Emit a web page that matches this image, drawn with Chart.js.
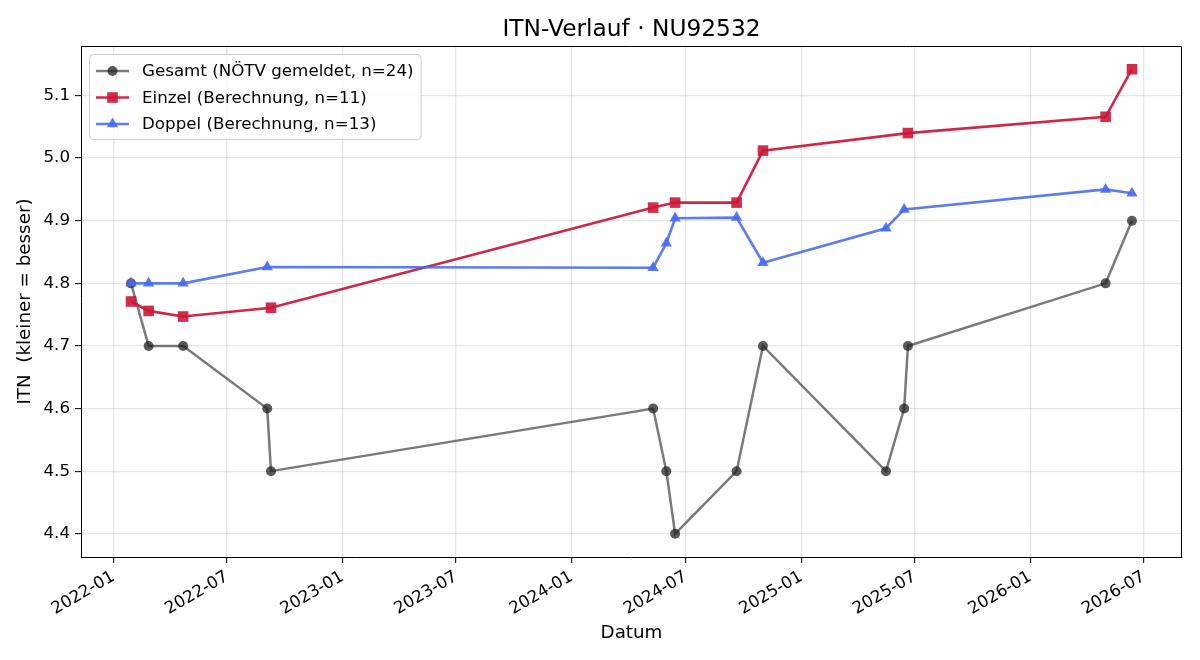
<!DOCTYPE html>
<html>
<head>
<meta charset="utf-8">
<script src="https://cdn.jsdelivr.net/npm/chart.js@4.4.1/dist/chart.umd.min.js"></script>
<style>
  html, body { margin: 0; background: #fff; }
</style>
</head>
<body>
<canvas id="itnChart" width="1200" height="660"></canvas>
<script>
// values
const gesamtDates = ["2022-01-29", "2022-02-26", "2022-04-22", "2022-09-03", "2022-09-09", "2024-05-10", "2024-05-31", "2024-06-14", "2024-09-20", "2024-11-01", "2025-05-16", "2025-06-14", "2025-06-20", "2026-05-01", "2026-06-12"];
const gesamtValues = [4.8, 4.7, 4.7, 4.6, 4.5, 4.6, 4.5, 4.4, 4.5, 4.7, 4.5, 4.6, 4.7, 4.8, 4.9];

const einzelDates = ["2022-01-29", "2022-02-26", "2022-04-22", "2022-09-09", "2024-05-10", "2024-06-14", "2024-09-20", "2024-11-01", "2025-06-20", "2026-05-01", "2026-06-12"];
const einzelValues = [4.771, 4.756, 4.747, 4.761, 4.921, 4.929, 4.929, 5.012, 5.040, 5.066, 5.142];

const doppelDates = ["2022-01-29", "2022-02-26", "2022-04-22", "2022-09-03", "2024-05-10", "2024-05-31", "2024-06-14", "2024-09-20", "2024-11-01", "2025-05-16", "2025-06-14", "2026-05-01", "2026-06-12"];
const doppelValues = [4.8, 4.8, 4.8, 4.826, 4.825, 4.864, 4.904, 4.905, 4.833, 4.888, 4.918, 4.950, 4.944];

const xTickLabels = ["2022-01", "2022-07", "2023-01", "2023-07", "2024-01", "2024-07", "2025-01", "2025-07", "2026-01", "2026-07"];
const yTickValues = [4.4, 4.5, 4.6, 4.7, 4.8, 4.9, 5.0, 5.1];

const seriesLabels = ["Gesamt (NÖTV gemeldet, n=24)", "Einzel (Berechnung, n=11)", "Doppel (Berechnung, n=13)"];

const DAY = 86400000;
const toDays = s => Date.parse(s + "T00:00:00Z") / DAY;
const pts = (dates, vals) => dates.map((d, i) => ({ x: toDays(d), y: vals[i] }));

const xTickValues = xTickLabels.map(l => toDays(l + "-01"));

// matplotlib-like 5% margins
const allX = [...gesamtDates, ...einzelDates, ...doppelDates].map(toDays);
const allY = [...gesamtValues, ...einzelValues, ...doppelValues];
const xLo = Math.min(...allX), xHi = Math.max(...allX);
const yLo = Math.min(...allY), yHi = Math.max(...allY);
const xPad = (xHi - xLo) * 0.05, yPad = (yHi - yLo) * 0.05;

const FONT = "'DejaVu Sans', sans-serif";
Chart.defaults.font.family = FONT;
Chart.defaults.color = "#000";

const GRID = "rgba(176,176,176,0.3)";

const frameAndTitle = {
  id: "frameAndTitle",
  afterDraw(chart) {
    const { ctx, chartArea: a } = chart;
    ctx.save();
    // top + right spines (left/bottom come from the scale borders)
    ctx.strokeStyle = "#000";
    ctx.lineWidth = 1;
    ctx.beginPath();
    ctx.moveTo(a.left, a.top + 0.5);
    ctx.lineTo(a.right - 0.5, a.top + 0.5);
    ctx.lineTo(a.right - 0.5, a.bottom);
    ctx.stroke();

    ctx.font = "23.3px " + FONT;
    ctx.fillStyle = "#000";
    ctx.textAlign = "center";
    ctx.textBaseline = "alphabetic";
    ctx.fillText("ITN-Verlauf · NU92532", (a.left + a.right) / 2, 36);
    ctx.restore();
  }
};

const mplLegend = {
  id: "mplLegend",
  afterDraw(chart) {
    const { ctx, chartArea: a } = chart;
    const fs = 16.7;
    const x0 = a.left + 8, y0 = a.top + 8;
    ctx.save();
    ctx.font = fs + "px " + FONT;
    const tw = Math.max(...chart.data.datasets.map(d => ctx.measureText(d.label).width));
    const w = 53 + tw + 7, h = 85;

    ctx.beginPath();
    ctx.roundRect(x0 + 0.5, y0 + 0.5, w, h, 4);
    ctx.fillStyle = "rgba(255,255,255,0.8)";
    ctx.fill();
    ctx.strokeStyle = "#cccccc";
    ctx.lineWidth = 1;
    ctx.stroke();

    chart.data.datasets.forEach((d, i) => {
      const cy = y0 + 17 + i * 26.5;
      ctx.beginPath();
      ctx.moveTo(x0 + 7, cy);
      ctx.lineTo(x0 + 40, cy);
      ctx.strokeStyle = d.borderColor;
      ctx.lineWidth = d.borderWidth;
      ctx.stroke();

      ctx.fillStyle = d.pointBackgroundColor;
      ctx.strokeStyle = d.pointBackgroundColor;
      if (Chart.helpers && Chart.helpers.drawPoint) {
        Chart.helpers.drawPoint(ctx, { pointStyle: d.pointStyle, radius: d.pointRadius, borderWidth: 0, rotation: 0 }, x0 + 23.5, cy);
      } else {
        ctx.beginPath();
        ctx.arc(x0 + 23.5, cy, d.pointRadius, 0, Math.PI * 2);
        ctx.fill();
      }

      ctx.fillStyle = "#000";
      ctx.textAlign = "left";
      ctx.textBaseline = "middle";
      ctx.fillText(d.label, x0 + 53, cy + 1);
    });
    ctx.restore();
  }
};

new Chart(document.getElementById("itnChart"), {
  type: "line",
  data: {
    datasets: [
      {
        label: seriesLabels[0],
        data: pts(gesamtDates, gesamtValues),
        borderColor: "rgba(0,0,0,0.52)",
        borderWidth: 2.5,
        pointStyle: "circle",
        pointRadius: 5,
        pointBorderWidth: 0,
        pointBackgroundColor: "rgba(35,35,35,0.75)",
        tension: 0,
        order: 3
      },
      {
        label: seriesLabels[1],
        data: pts(einzelDates, einzelValues),
        borderColor: "rgba(206,22,56,0.93)",
        borderWidth: 2.6,
        pointStyle: "rect",
        pointRadius: 7.5,
        pointBorderWidth: 0,
        pointBackgroundColor: "rgba(206,22,56,0.9)",
        tension: 0,
        order: 2
      },
      {
        label: seriesLabels[2],
        data: pts(doppelDates, doppelValues),
        borderColor: "rgba(70,105,242,0.88)",
        borderWidth: 2.6,
        pointStyle: "triangle",
        pointRadius: 6.5,
        pointBorderWidth: 0,
        pointBackgroundColor: "rgba(70,105,242,0.9)",
        tension: 0,
        order: 1
      }
    ]
  },
  options: {
    responsive: false,
    animation: false,
    devicePixelRatio: 1,
    layout: { padding: { top: 46, right: 18, left: 0, bottom: 0 } },
    plugins: {
      legend: { display: false },
      title: { display: false },
      tooltip: { enabled: false }
    },
    scales: {
      x: {
        type: "linear",
        min: xLo - xPad,
        max: xHi + xPad,
        afterBuildTicks: s => { s.ticks = xTickValues.map(v => ({ value: v })); },
        afterFit: s => { s.height = 103; },
        ticks: {
          autoSkip: false,
          minRotation: 30,
          maxRotation: 30,
          padding: 4,
          font: { size: 16.7 },
          callback: v => xTickLabels[xTickValues.indexOf(v)]
        },
        grid: { color: GRID, lineWidth: 1.3, tickColor: "#000", tickLength: 6, tickWidth: 1 },
        border: { color: "#000", width: 1 },
        title: { display: true, text: "Datum", font: { size: 18.3 }, padding: { top: 16, bottom: 16 } }
      },
      y: {
        type: "linear",
        min: yLo - yPad,
        max: yHi + yPad,
        afterBuildTicks: s => { s.ticks = yTickValues.map(v => ({ value: v })); },
        afterFit: s => { s.width = 81; },
        ticks: {
          padding: 5,
          font: { size: 16.7 },
          callback: v => v.toFixed(1)
        },
        grid: { color: GRID, lineWidth: 1.3, tickColor: "#000", tickLength: 6, tickWidth: 1 },
        border: { color: "#000", width: 1 },
        title: { display: true, text: "ITN  (kleiner = besser)", font: { size: 18.3 }, padding: { top: 14, bottom: 14 } }
      }
    }
  },
  plugins: [frameAndTitle, mplLegend]
});
</script>
</body>
</html>
